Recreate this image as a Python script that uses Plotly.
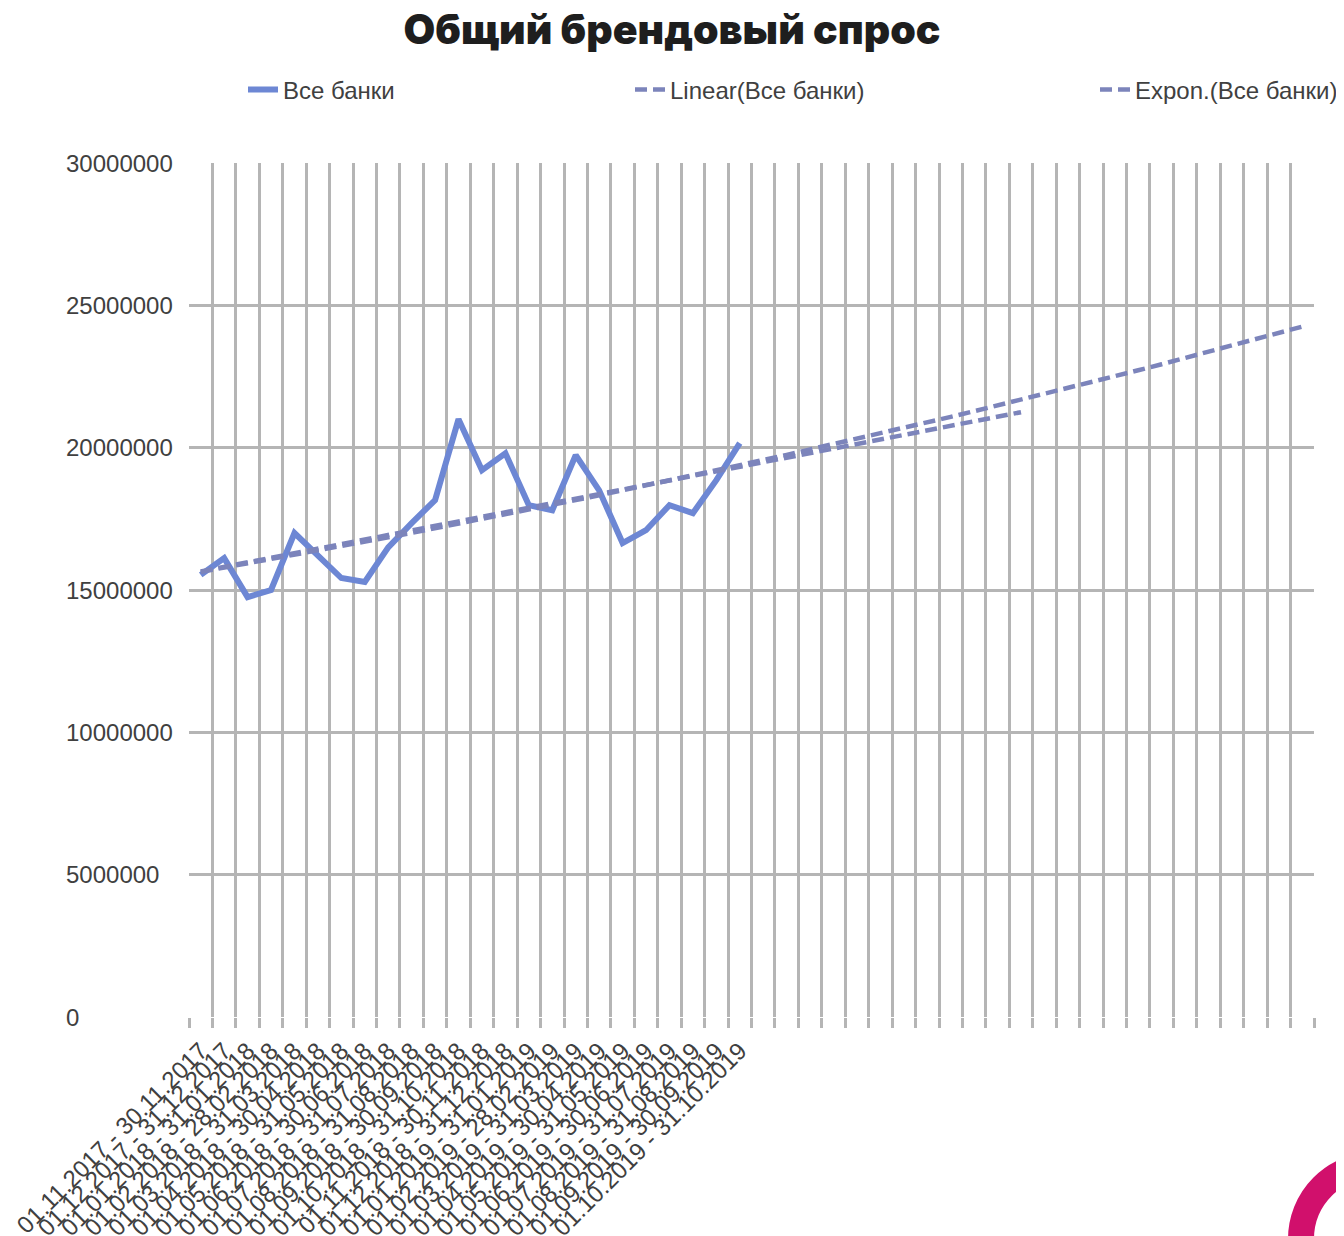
import numpy as np
import plotly.graph_objects as go

# Общий брендовый спрос, все банки, по месяцам
periods = [
    "01.11.2017 - 30.11.2017", "01.12.2017 - 31.12.2017", "01.01.2018 - 31.01.2018",
    "01.02.2018 - 28.02.2018", "01.03.2018 - 31.03.2018", "01.04.2018 - 30.04.2018",
    "01.05.2018 - 31.05.2018", "01.06.2018 - 30.06.2018", "01.07.2018 - 31.07.2018",
    "01.08.2018 - 31.08.2018", "01.09.2018 - 30.09.2018", "01.10.2018 - 31.10.2018",
    "01.11.2018 - 30.11.2018", "01.12.2018 - 31.12.2018", "01.01.2019 - 31.01.2019",
    "01.02.2019 - 28.02.2019", "01.03.2019 - 31.03.2019", "01.04.2019 - 30.04.2019",
    "01.05.2019 - 31.05.2019", "01.06.2019 - 30.06.2019", "01.07.2019 - 31.07.2019",
    "01.08.2019 - 31.08.2019", "01.09.2019 - 30.09.2019", "01.10.2019 - 31.10.2019",
]
all_banks = [
    15530000, 16120000, 14750000, 15000000, 17000000, 16190000,
    15420000, 15280000, 16500000, 17350000, 18160000, 21000000,
    19210000, 19800000, 17980000, 17800000, 19740000, 18500000,
    16650000, 17100000, 17980000, 17700000, 18860000, 20160000,
]
y_ticks = [0, 5000000, 10000000, 15000000, 20000000, 25000000, 30000000]

# excel trendlines: linear forecast 12 periods, exponential forecast 24 periods
linear_forward = 12
expon_forward = 24
n_slots = len(periods) + 24

GRID = "#b5b5b5"
TEXT = "#404040"
FONT = "Liberation Sans"

# figure pixels (page adds an 8px body margin)
W, H = 1344, 1236
L, R, T, B = 181, 38, 155, 227
PW = W - L - R
PH = H - T - B

### Trendlines fitted on the series (x = 1..n as in Excel) ###
xs = np.arange(1, len(all_banks) + 1)
lin_b, lin_a = np.polyfit(xs, all_banks, 1)
exp_k, exp_c = np.polyfit(xs, np.log(all_banks), 1)

lin_x = np.array([0, len(periods) - 1 + linear_forward])
lin_y = lin_a + lin_b * (lin_x + 1)
exp_x = np.arange(0, len(periods) + expon_forward)
exp_y = np.exp(exp_c + exp_k * (exp_x + 1))

fig = go.Figure()

fig.add_trace(go.Scatter(
    x=list(range(len(all_banks))), y=all_banks, mode="lines", name="Все банки",
    line=dict(color="#6d87d4", width=6), legend="legend",
))
fig.add_trace(go.Scatter(
    x=lin_x, y=lin_y, mode="lines", name="Linear(Все банки)",
    line=dict(color="#7c84bb", width=4.5, dash="12px,6px"), legend="legend2",
))
fig.add_trace(go.Scatter(
    x=exp_x, y=exp_y, mode="lines", name="Expon.(Все банки)",
    line=dict(color="#7c84bb", width=4.5, dash="12px,6px"), legend="legend3",
))

# y tick labels are left aligned in the original
for v in y_ticks:
    fig.add_annotation(
        x=(56 - L) / PW, xref="paper", xanchor="left",
        y=v, yref="y", yanchor="middle", text=str(v), showarrow=False,
        font=dict(family=FONT, size=24, color=TEXT),
    )

# magenta logo ring in the corner
fig.add_shape(
    type="circle", xref="paper", yref="paper",
    x0=(1293 - L) / PW, x1=(1441 - L) / PW,
    y0=(H - B - 1305) / PH, y1=(H - B - 1157) / PH,
    line=dict(color="#d1106c", width=26), fillcolor="white",
)

legend_common = dict(
    orientation="h", yanchor="middle", y=(H - B - 82) / PH, xanchor="left",
    font=dict(family=FONT, size=24, color=TEXT), bgcolor="rgba(0,0,0,0)",
    itemwidth=30,
)

fig.update_layout(
    width=W, height=H,
    margin=dict(l=L, r=R, t=T, b=B, autoexpand=False),
    paper_bgcolor="white", plot_bgcolor="white",
    template="none",
    title=dict(
        text="Общий брендовый спрос", x=664 / W, xref="container", xanchor="center",
        y=1 - 22 / H, yref="container", yanchor="middle",
        font=dict(family="Inter", size=41, color="#1e1e1e", weight=900),
    ),
    showlegend=True,
    legend=dict(x=(235 - L) / PW, **legend_common),
    legend2=dict(x=(622 - L) / PW, **legend_common),
    legend3=dict(x=(1087 - L) / PW, **legend_common),
    xaxis=dict(
        range=[-0.5, n_slots - 0.5], tickvals=list(range(len(periods))), ticktext=periods,
        tickangle=-45, ticks="", showgrid=False, zeroline=False, showline=False,
        tickfont=dict(family=FONT, size=24, color=TEXT), ticklabelstandoff=14,
        automargin=False,
    ),
    xaxis2=dict(
        overlaying="x", side="bottom", range=[-0.5, n_slots - 0.5],
        tickvals=[i + 0.5 for i in range(n_slots - 1)], showticklabels=False,
        showgrid=True, gridcolor=GRID, gridwidth=3,
        ticks="outside", ticklen=10, tickwidth=3, tickcolor=GRID,
        zeroline=False, showline=False, automargin=False,
    ),
    xaxis3=dict(
        overlaying="x", side="bottom", range=[-0.5, n_slots - 0.5],
        tickvals=[-0.5, n_slots - 0.5], showticklabels=False, showgrid=False,
        ticks="outside", ticklen=10, tickwidth=3, tickcolor=GRID,
        zeroline=False, showline=False, automargin=False,
    ),
    yaxis=dict(
        range=[0, 30000000], tickvals=y_ticks, showticklabels=False,
        showgrid=True, gridcolor=GRID, gridwidth=3, zeroline=False, showline=False,
        automargin=False,
    ),
)

# invisible traces so the extra x axes get drawn
fig.add_trace(go.Scatter(x=[0], y=[0], xaxis="x2", mode="none", showlegend=False, hoverinfo="skip"))
fig.add_trace(go.Scatter(x=[0], y=[0], xaxis="x3", mode="none", showlegend=False, hoverinfo="skip"))

fig.write_html("out.html")
